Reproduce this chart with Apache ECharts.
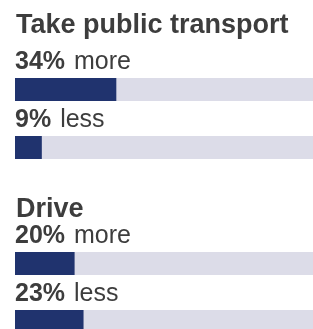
<!DOCTYPE html>
<html>
<head>
<meta charset="utf-8">
<script src="https://cdn.jsdelivr.net/npm/echarts@6/dist/echarts.min.js"></script>
<style>
  html, body { margin: 0; padding: 0; background: #fff; }
  #chart { width: 313px; height: 329px; }
</style>
</head>
<body>
<div id="chart"></div>
<script>
// 数据
const groups = ['Take public transport', 'Drive']
const changes = ['more', 'less']
const transportValues = [34, 9]
const driveValues = [20, 23]

const FONT = '"Liberation Sans", Arial, Helvetica, sans-serif'
const TEXT = '#3d3d3d'
const NAVY = '#20336e'
const TRACK = '#dcdce8'

const myChart = echarts.init(document.getElementById('chart'))

function makeSeries (values, idx) {
  return {
    type: 'bar',
    xAxisIndex: idx,
    yAxisIndex: idx,
    barWidth: 23,
    showBackground: true,
    backgroundStyle: { color: TRACK },
    itemStyle: { color: NAVY },
    silent: true,
    label: {
      show: true,
      position: [0, -3],
      verticalAlign: 'bottom',
      align: 'left',
      formatter: p => '{b|' + p.value + '%}{n|' + p.name + '}',
      rich: {
        b: { fontFamily: FONT, fontSize: 25, fontWeight: 'bold', color: TEXT },
        n: { fontFamily: FONT, fontSize: 25, color: TEXT, padding: [0, 0, 0, 9] }
      }
    },
    data: values
  }
}

const titleStyle = { fontFamily: FONT, fontSize: 27, fontWeight: 'bold', color: TEXT }

const option = {
  animation: false,
  title: [
    { text: groups[0], left: 11, top: 7, textStyle: titleStyle },
    { text: groups[1], left: 11, top: 191, textStyle: titleStyle }
  ],
  // 两组各一个 grid
  grid: [
    { left: 15, right: 0, top: 60.5, height: 116, outerBoundsMode: 'none' },
    { left: 15, right: 0, top: 234.5, height: 116, outerBoundsMode: 'none' }
  ],
  xAxis: [0, 1].map(i => ({
    type: 'value', gridIndex: i, min: 0, max: 100, show: false
  })),
  yAxis: [0, 1].map(i => ({
    type: 'category', gridIndex: i, inverse: true, data: changes, show: false
  })),
  series: [makeSeries(transportValues, 0), makeSeries(driveValues, 1)]
}

myChart.setOption(option)
</script>
</body>
</html>
